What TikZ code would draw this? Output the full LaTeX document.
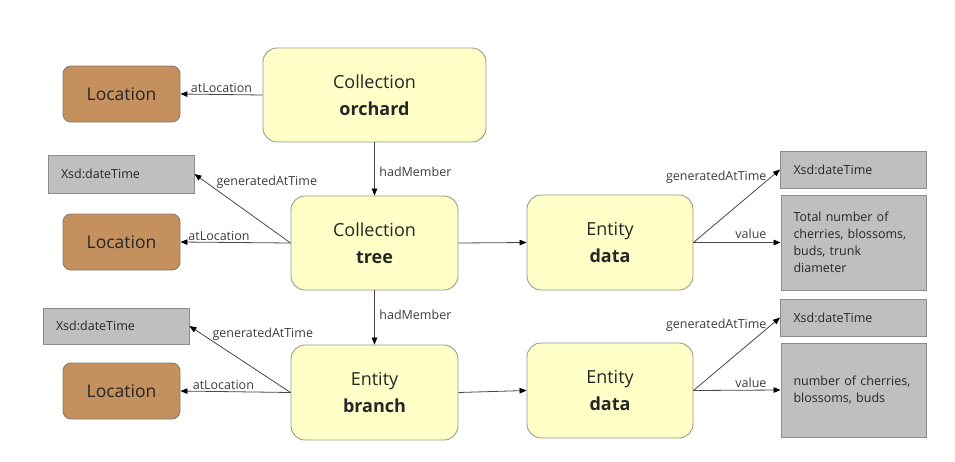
\documentclass[tikz,border=0pt]{standalone}
\usepackage{fontspec}
\setmainfont{Open Sans}
\usetikzlibrary{arrows.meta}
\definecolor{yfill}{HTML}{FFFFC8}
\definecolor{yline}{HTML}{9A9A8C}
\definecolor{locfill}{HTML}{C4915E}
\definecolor{locline}{HTML}{8A7A6A}
\definecolor{gfill}{HTML}{BFBFBF}
\definecolor{gline}{HTML}{8C8C8C}
\definecolor{txt}{HTML}{262626}
\definecolor{labtxt}{HTML}{3C3C3C}
\definecolor{edge}{HTML}{484848}
\begin{document}
\begin{tikzpicture}[x=1pt,y=-1pt,
  mainbox/.style={draw=yline, fill=yfill, rounded corners=14pt, line width=0.9pt,
    minimum height=94pt, align=center, text=txt, inner sep=0pt,
    font=\fontsize{18}{27.5}\selectfont},
  locbox/.style={draw=locline, fill=locfill, rounded corners=8pt, line width=0.9pt,
    minimum width=117pt, minimum height=56pt, text=txt, inner sep=0pt,
    font=\fontsize{17.5}{20}\selectfont},
  litbox/.style={draw=gline, fill=gfill, line width=0.9pt, text=txt,
    text width=120pt, inner xsep=13pt, inner ysep=0pt, align=left,
    font=\fontsize{12.5}{17}\selectfont},
  valbox/.style={draw=gline, fill=gfill, line width=0.9pt, text=txt,
    text width=120pt, inner xsep=12.5pt, inner ysep=0pt, align=left,
    minimum height=94pt, font=\fontsize{12.5}{17}\selectfont},
  rel/.style={draw=edge, line width=0.8pt, -{Triangle[length=7pt,width=5.5pt,color=black,fill=black]}},
  lab/.style={text=labtxt, inner sep=1.5pt, font=\fontsize{12.5}{15}\selectfont}]
\useasboundingbox (0,0) rectangle (955,461);

% collections and entities
\node[mainbox, minimum width=223pt] (orchard) at (374.5,95) {Collection\\\textbf{orchard}};
\node[mainbox, minimum width=167pt] (tree) at (374.5,243) {Collection\\\textbf{tree}};
\node[mainbox, minimum width=167pt, minimum height=95pt] (branch) at (374.5,392.5) {Entity\\\textbf{branch}};
\node[mainbox, minimum width=166pt, minimum height=95pt] (data1) at (610,242.5) {Entity\\\textbf{data}};
\node[mainbox, minimum width=166pt, minimum height=95pt] (data2) at (610,390.5) {Entity\\\textbf{data}};

% locations
\node[locbox] (loc1) at (121.5,94) {Location};
\node[locbox] (loc2) at (121.5,242) {Location};
\node[locbox] (loc3) at (121.5,391) {Location};

% literal values
\node[litbox, minimum height=38pt] (timeL1) at (121,174) {Xsd:dateTime};
\node[litbox, minimum height=36pt] (timeL2) at (116,326) {Xsd:dateTime};
\node[litbox, minimum height=37pt] (timeR1) at (853.5,169.5) {Xsd:dateTime};
\node[litbox, minimum height=37pt] (timeR2) at (853.5,317.5) {Xsd:dateTime};
\node[valbox, minimum height=95pt] (val1) at (853.5,242.5)
  {Total number of\\cherries, blossoms,\\buds, trunk\\diameter};
\node[valbox] (val2) at (853.5,390) {number of cherries,\\blossoms, buds};

% relations
\draw[rel] (orchard.west) -- node[lab, above, midway] {atLocation} (loc1.east);
\draw[rel] (orchard.south) -- node[lab, right, midway, xshift=3pt, yshift=-3pt] {hadMember} (tree.north);
\draw[rel] (tree.west) -- node[lab, above, pos=0.65] {atLocation} (loc2.east);
\draw[rel] (tree.west) -- node[lab, anchor=south west, pos=0.8, xshift=1pt, yshift=-3pt] {generatedAtTime} (timeL1.east);
\draw[rel] (tree.south) -- node[lab, right, midway, xshift=3pt, yshift=3pt] {hadMember} (branch.north);
\draw[rel] (tree.east) -- (data1.west);
\draw[rel] (branch.west) -- node[lab, above, pos=0.61] {atLocation} (loc3.east);
\draw[rel] (branch.west) -- node[lab, anchor=south west, pos=0.8, xshift=1pt, yshift=-3pt] {generatedAtTime} (timeL2.east);
\draw[rel] (branch.east) -- (data2.west);
\draw[rel] (data1.east) -- node[lab, anchor=east, pos=0.9, xshift=-3pt] {generatedAtTime} (timeR1.west);
\draw[rel] (data1.east) -- node[lab, anchor=south east, pos=0.86, yshift=2pt] {value} (val1.west);
\draw[rel] (data2.east) -- node[lab, anchor=east, pos=0.9, xshift=-3pt] {generatedAtTime} (timeR2.west);
\draw[rel] (data2.east) -- node[lab, anchor=south east, pos=0.86, yshift=1pt] {value} (val2.west);
\end{tikzpicture}
\end{document}
